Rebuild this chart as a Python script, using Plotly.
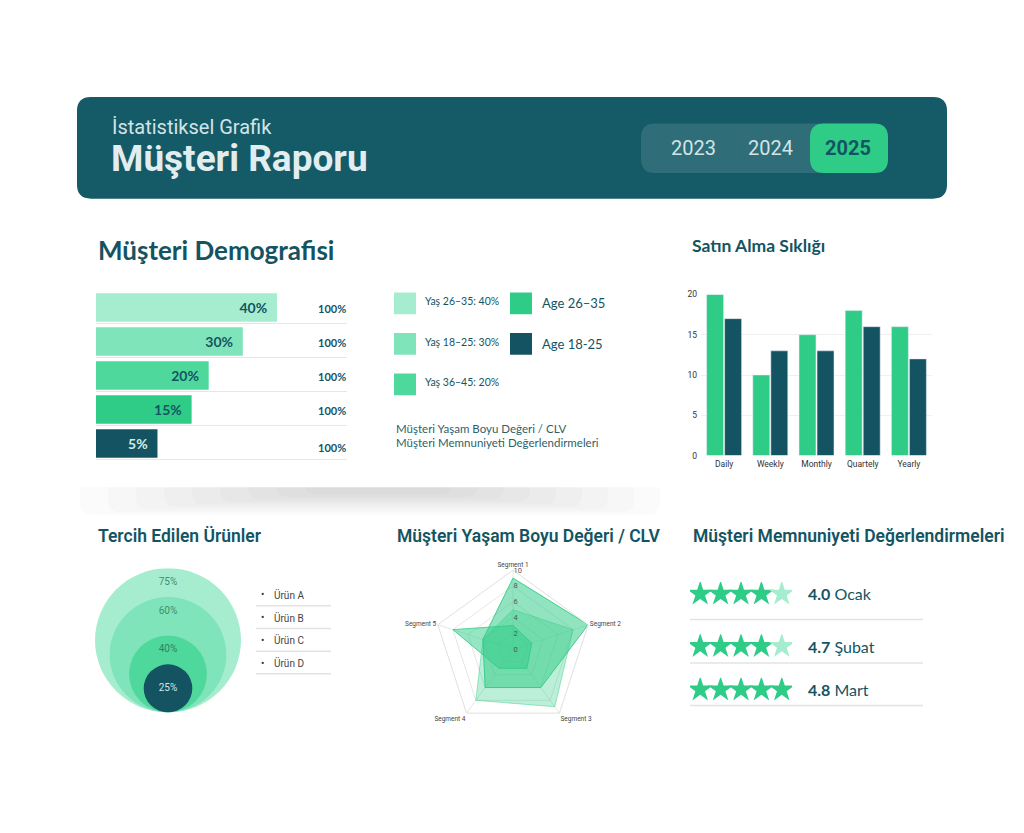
import plotly.graph_objects as go

# ---------------- data ----------------
years = ["2023", "2024", "2025"]
selected_year = "2025"

demo_groups = ["Yaş 26–35", "Yaş 18–25", "Yaş 36–45", "Yaş 46–55", "Yaş 56+"]
demo_values = [40, 30, 20, 15, 5]
demo_totals = [100, 100, 100, 100, 100]

legend_left = ["Yaş 26–35: 40%", "Yaş 18–25: 30%", "Yaş 36–45: 20%"]
legend_right = ["Age 26–35", "Age 18-25"]
legend_notes = ["Müşteri Yaşam Boyu Değeri / CLV", "Müşteri Memnuniyeti Değerlendirmeleri"]

freq_cats = ["Daily", "Weekly", "Monthly", "Quartely", "Yearly"]
freq_a = [20, 10, 15, 18, 16]
freq_b = [17, 13, 13, 16, 12]

products = ["Ürün A", "Ürün B", "Ürün C", "Ürün D"]
product_share = [75, 60, 40, 25]

segments = ["Segment 1", "Segment 2", "Segment 3", "Segment 4", "Segment 5"]
clv_a = [9, 10, 6, 6, 4]
clv_b = [5, 8, 9, 8, 4]
clv_c = [3, 2.5, 3, 3, 8]

months = ["Ocak", "Şubat", "Mart"]
ratings = [4.0, 4.7, 4.8]
stars_filled = [4, 4, 5]

# ---------------- style ----------------
W, H = 1024, 833
TEAL = "#145462"
HEADER = "#155a67"
GREEN = "#2ecc87"
MINT = ["#a6edcf", "#80e4ba", "#4fd89c", "#2ecc87", "#145462"]
FONT = "Lato"
COND = "Roboto"


def X(px):
    return px / W


def Y(py):
    return 1 - py / H


def rrect_path(x0, y0, x1, y1, r):
    return (f"M {X(x0+r)},{Y(y0)} L {X(x1-r)},{Y(y0)} Q {X(x1)},{Y(y0)} {X(x1)},{Y(y0+r)} "
            f"L {X(x1)},{Y(y1-r)} Q {X(x1)},{Y(y1)} {X(x1-r)},{Y(y1)} "
            f"L {X(x0+r)},{Y(y1)} Q {X(x0)},{Y(y1)} {X(x0)},{Y(y1-r)} "
            f"L {X(x0)},{Y(y0+r)} Q {X(x0)},{Y(y0)} {X(x0+r)},{Y(y0)} Z")


shapes = []
annotations = []


def ann(text, x, y, size, color, weight=400, xanchor="left", family=FONT):
    annotations.append(dict(text=text, x=X(x), y=Y(y), xref="paper", yref="paper",
                            xanchor=xanchor, yanchor="middle", showarrow=False,
                            font=dict(size=size, color=color, family=family, weight=weight)))


fig = go.Figure()

# ---------------- soft shadow under the top cards ----------------
for i in range(9):
    shapes.append(dict(type="path", xref="paper", yref="paper",
                       path=rrect_path(80 + i * 28, 470, 660 - i * 26, 516 - i * 2.6, 12),
                       fillcolor="rgba(0,0,0,0.014)", line=dict(width=0), layer="below"))
shapes.append(dict(type="rect", xref="paper", yref="paper", x0=X(60), x1=X(680), y0=Y(488), y1=Y(465),
                   fillcolor="white", line=dict(width=0), layer="below"))

# ---------------- header ----------------
shapes.append(dict(type="path", xref="paper", yref="paper", path=rrect_path(77, 93, 947, 196, 14),
                   fillcolor=HEADER, line=dict(width=0), layer="below"))
shapes.append(dict(type="path", xref="paper", yref="paper", path=rrect_path(641, 120, 888, 170, 14),
                   fillcolor="#2f6d78", line=dict(width=0), layer="below"))
shapes.append(dict(type="path", xref="paper", yref="paper", path=rrect_path(810, 120, 888, 170, 14),
                   fillcolor=GREEN, line=dict(width=0), layer="below"))
ann("İstatistiksel Grafik", 110, 123, 20, "#d3e4e6", 400, family=COND)
ann("Müşteri Raporu", 109, 155, 37, "#e2edef", 700, family=COND)
year_x = [693, 770, 848]
for yr, xx in zip(years, year_x):
    sel = yr == selected_year
    ann(yr, xx, 145, 20, TEAL if sel else "#d3e4e6", 700 if sel else 400, xanchor="center", family=COND)

# ---------------- Müşteri Demografisi ----------------
ann("Müşteri Demografisi", 96, 248, 26, TEAL, 700)
bar_base = -13
fig.add_trace(go.Bar(
    y=demo_groups, x=[v - bar_base for v in demo_values], base=bar_base, orientation="h",
    marker=dict(color=MINT, line=dict(width=0)), width=0.84,
    text=[f"{v}%  " for v in demo_values], textposition="inside", insidetextanchor="end",
    textfont=dict(size=14, family=FONT, weight=700,
                  color=[TEAL, TEAL, TEAL, TEAL, "#d4ece8"]),
    xaxis="x", yaxis="y", hoverinfo="skip"))
for i, t in enumerate(demo_totals):
    annotations.append(dict(text=f"<b>{t}%</b>", x=X(332), y=demo_groups[i], xref="paper", yref="y",
                            xanchor="center", yanchor="middle", yshift=-1 if i < 4 else -4,
                            showarrow=False, font=dict(size=11, color=TEAL, family=FONT)))
    shapes.append(dict(type="line", xref="paper", yref="y", x0=X(96), x1=X(347),
                       y0=i + 0.47, y1=i + 0.47, line=dict(color="#e6e6e6", width=1)))

# legend
for i, lab in enumerate(legend_left):
    yy = 302 + i * 41
    shapes.append(dict(type="rect", xref="paper", yref="paper", x0=X(394), x1=X(416),
                       y0=Y(yy - 11), y1=Y(yy + 11), fillcolor=MINT[i], line=dict(width=0)))
    ann(lab, 423, yy - 2, 10.5, TEAL, 400)
for i, lab in enumerate(legend_right):
    yy = 302 + i * 41
    shapes.append(dict(type="rect", xref="paper", yref="paper", x0=X(510), x1=X(532),
                       y0=Y(yy - 11), y1=Y(yy + 11), fillcolor=[GREEN, TEAL][i], line=dict(width=0)))
    ann(lab, 540, yy, 13, TEAL, 400)
for i, lab in enumerate(legend_notes):
    ann(lab, 394, 429 + i * 13.5, 11.5, "#2f5f68", 400)

# ---------------- Satın Alma Sıklığı ----------------
ann("Satın Alma Sıklığı", 690, 243, 17.5, TEAL, 700)
fig.add_trace(go.Bar(x=freq_cats, y=freq_a, marker=dict(color=GREEN), xaxis="x2", yaxis="y2",
                     hoverinfo="skip"))
fig.add_trace(go.Bar(x=freq_cats, y=freq_b, marker=dict(color=TEAL), xaxis="x2", yaxis="y2",
                     hoverinfo="skip"))

# ---------------- Tercih Edilen Ürünler ----------------
ann("Tercih Edilen Ürünler", 96, 537, 17.5, TEAL, 600, family=COND)
circle_colors = ["#a6edcf", "#80e4ba", "#4fd89c", TEAL]
for v, c in zip(product_share, circle_colors):
    shapes.append(dict(type="circle", xref="x3", yref="y3", x0=-v, x1=v, y0=0, y1=2 * v,
                       fillcolor=c, line=dict(width=0), layer="below"))
fig.add_trace(go.Scatter(
    x=[0] * len(product_share),
    y=[2 * v - 15 for v in product_share[:-1]] + [product_share[-1]],
    text=[f"{v}%" for v in product_share], mode="text",
    textfont=dict(size=10, family="Roboto", color=["#3b8f73", "#3b8f73", "#2f8065", "#cfe7e4"]),
    xaxis="x3", yaxis="y3", hoverinfo="skip"))
for i, p in enumerate(products):
    yy = 597 + i * 23
    ann("•", 262, yy, 10, "#333333", 400, xanchor="center", family="Roboto")
    ann(p, 272, yy, 10, "#444444", 400, family="Roboto")
    shapes.append(dict(type="line", xref="paper", yref="paper", x0=X(256), x1=X(331),
                       y0=Y(yy + 11), y1=Y(yy + 11), line=dict(color="#e3e3e3", width=1.5)))

# ---------------- CLV radar ----------------
ann("Müşteri Yaşam Boyu Değeri / CLV", 395, 537, 17.5, TEAL, 600, family=COND)
for vals, fc, lc in [(clv_b, "rgba(46,204,135,0.32)", "rgba(46,204,135,0.45)"),
                     (clv_a, "rgba(46,204,135,0.52)", "rgba(46,204,135,0.9)"),
                     (clv_c, "rgba(46,204,135,0.5)", "rgba(46,204,135,0.8)")]:
    fig.add_trace(go.Scatterpolar(r=vals + vals[:1], theta=segments + segments[:1], fill="toself",
                                  fillcolor=fc, line=dict(color=lc, width=1), mode="lines",
                                  hoverinfo="skip"))

# ---------------- Müşteri Memnuniyeti ----------------
ann("Müşteri Memnuniyeti Değerlendirmeleri", 691, 537, 17.5, TEAL, 600, family=COND)
row_y = [596, 649, 693]
line_y = [622, 666, 709]
for i, (m, r, f) in enumerate(zip(months, ratings, stars_filled)):
    ax = i + 4
    fig.add_trace(go.Scatter(
        x=list(range(1, 6)), y=[0] * 5, mode="markers",
        marker=dict(symbol="star", size=19, line=dict(width=0),
                    color=[GREEN if k < f else "#a6edcf" for k in range(5)]),
        xaxis=f"x{ax}", yaxis=f"y{ax}", hoverinfo="skip"))
    ann(f"<b>{r:.1f}</b> {m}", 806, row_y[i], 16, TEAL, 400)
    shapes.append(dict(type="line", xref="paper", yref="paper", x0=X(690), x1=X(923),
                       y0=Y(line_y[i]), y1=Y(line_y[i]), line=dict(color="#e3e3e3", width=1.5)))

hidden = dict(visible=False, showgrid=False, zeroline=False, fixedrange=True)

layout = dict(
    width=W, height=H, margin=dict(l=0, r=0, t=0, b=0),
    paper_bgcolor="white", plot_bgcolor="rgba(0,0,0,0)", showlegend=False,
    barmode="group", bargap=0.22, bargroupgap=0.06,
    shapes=shapes, annotations=annotations,
    # demographics
    xaxis=dict(domain=[X(96), X(347)], range=[bar_base, 60.5], **hidden),
    yaxis=dict(domain=[Y(461), Y(289)], autorange="reversed", **hidden),
    # frequency bars
    xaxis2=dict(domain=[X(701), X(932)], anchor="y2", showgrid=False, zeroline=False, showline=False,
                ticks="", tickfont=dict(size=8.5, color="#333", family="Roboto"), fixedrange=True,
                ticklabelstandoff=2),
    yaxis2=dict(domain=[Y(456), Y(293)], anchor="x2", range=[0, 20], dtick=5, showgrid=True,
                gridcolor="#f0f0f0", zeroline=False, showline=False, ticks="",
                tickfont=dict(size=8.5, color="#333", family="Roboto"), fixedrange=True,
                ticklabelstandoff=3),
    # circles
    xaxis3=dict(domain=[X(95), X(241)], range=[-75, 75], anchor="y3", **hidden),
    yaxis3=dict(domain=[Y(716), Y(570)], range=[0, 150], anchor="x3", **hidden),
    # radar
    polar=dict(domain=dict(x=[X(433), X(593)], y=[Y(732), Y(572)]), gridshape="linear",
               bgcolor="rgba(0,0,0,0)",
               radialaxis=dict(range=[0, 10], dtick=2, angle=90, showline=False,
                               gridcolor="#e6e6e6", tickfont=dict(size=7.5, color="#555", family="Roboto"),
                               ticks="", tickangle=90),
               angularaxis=dict(rotation=90, direction="clockwise", gridcolor="#e6e6e6",
                                linecolor="#e0e0e0", ticks="",
                                tickfont=dict(size=6.5, color="#444", family="Roboto"))),
)
for i, yy in enumerate(row_y):
    ax = i + 4
    layout[f"xaxis{ax}"] = dict(domain=[X(690), X(792)], range=[0.5, 5.5], anchor=f"y{ax}", **hidden)
    layout[f"yaxis{ax}"] = dict(domain=[Y(yy + 12), Y(yy - 12)], range=[-1, 1], anchor=f"x{ax}", **hidden)

fig.update_layout(**layout)
fig.write_html("out.html")
